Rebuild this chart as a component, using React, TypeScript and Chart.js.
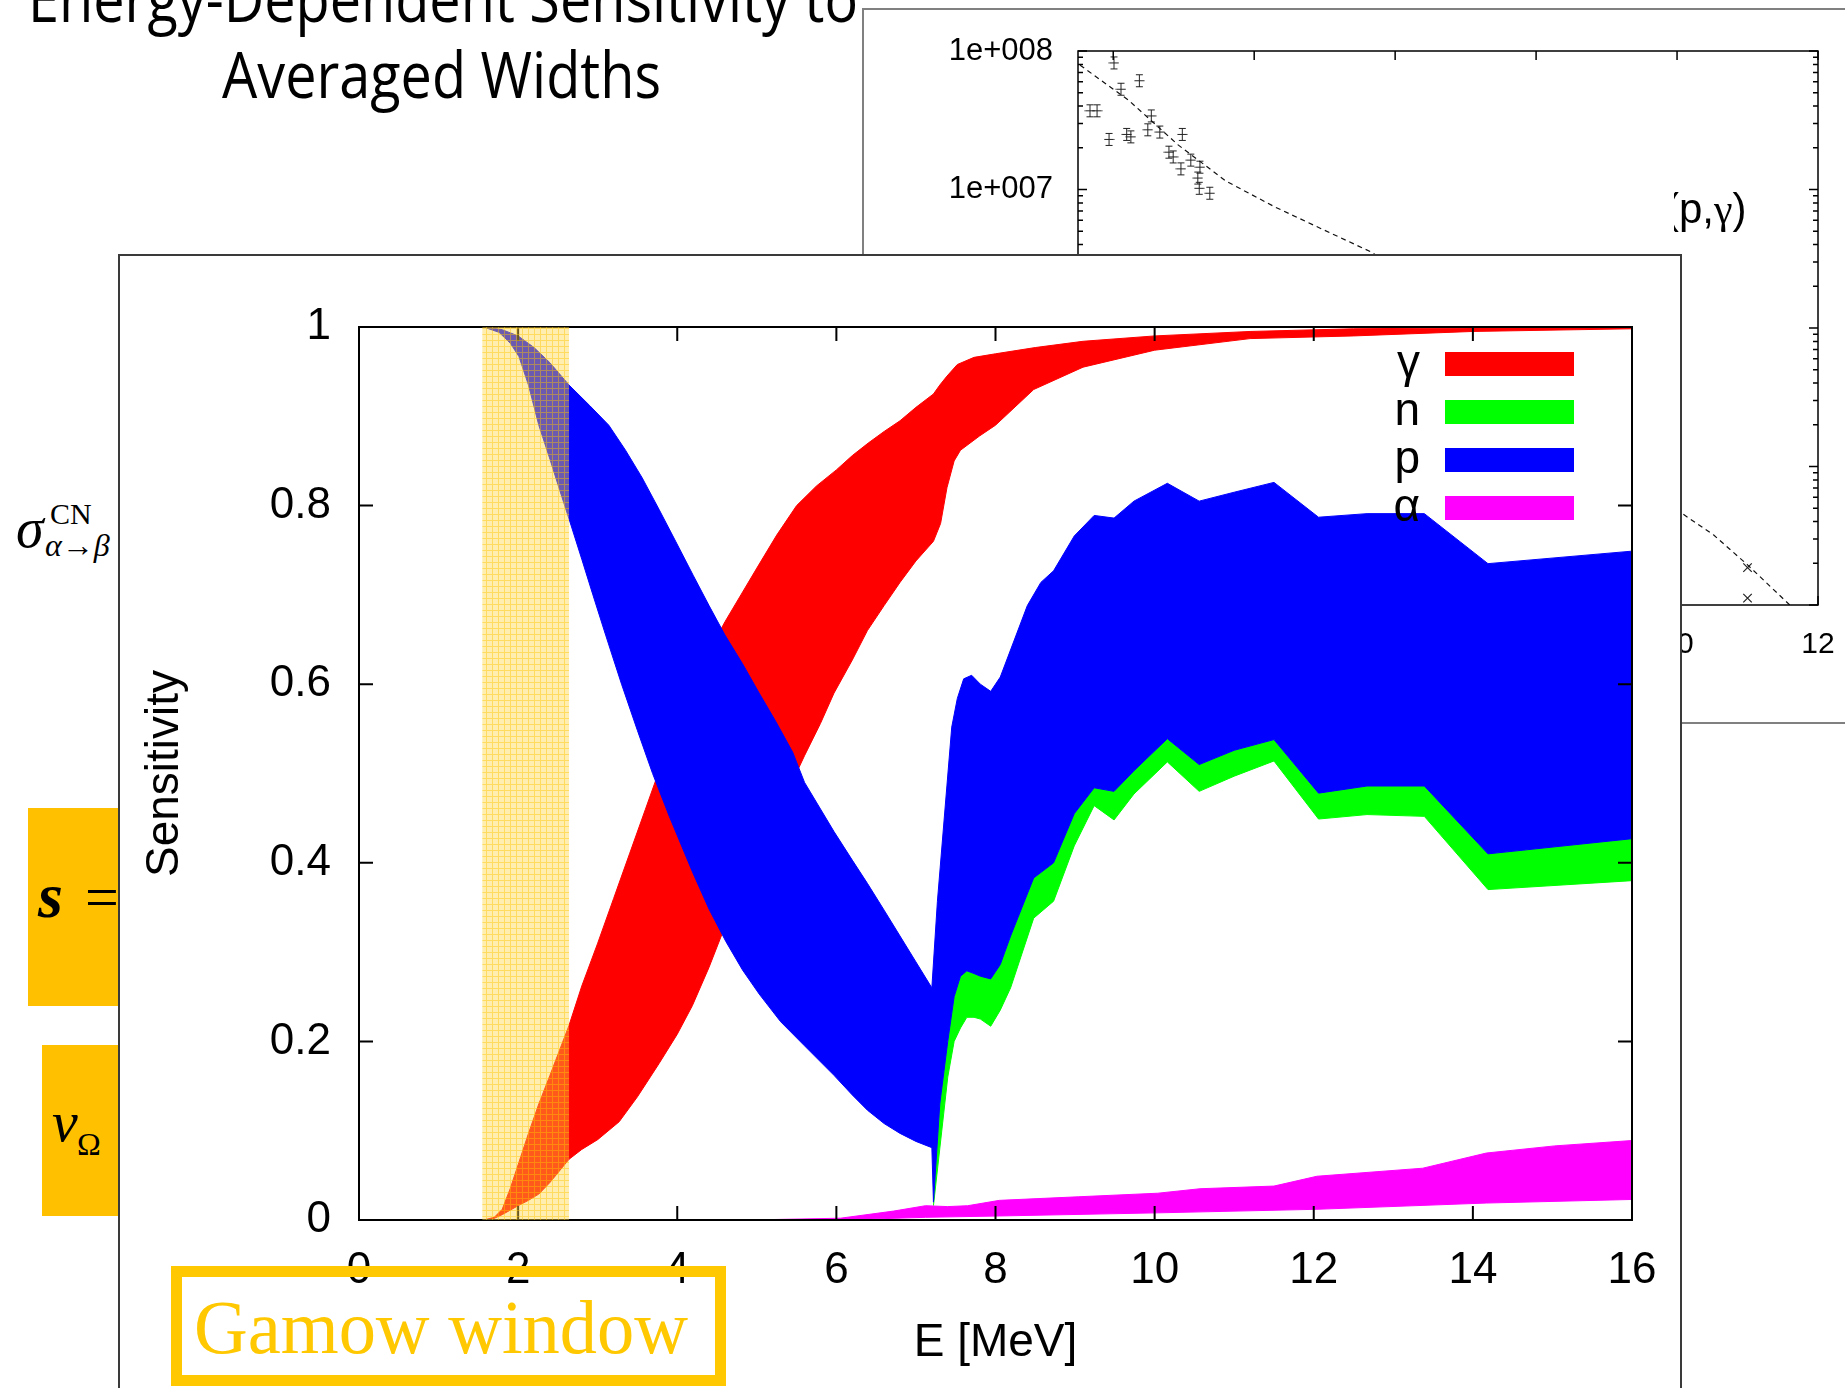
import React, { useEffect, useRef } from 'react';
import { Chart, registerables } from 'chart.js';

Chart.register(...registerables);

const SANS = "'Liberation Sans', Arial, Helvetica, sans-serif";
const SERIF = "'Liberation Serif', 'Times New Roman', serif";
const TITLE_FONT = "'Open Sans', sans-serif";

// ---------- Sensitivity plot ----------
// gamma channel envelope
const gammaUpperE = [1.57, 1.7, 1.8, 1.9, 2.0, 2.13, 2.26, 2.4, 2.52, 2.64, 2.8, 3.0, 3.2, 3.4, 3.6, 3.8, 4.0, 4.2, 4.4, 4.6, 4.8, 5.0, 5.25, 5.5, 5.75, 6.0, 6.2, 6.4, 6.6, 6.8, 7.0, 7.22, 7.3, 7.39, 7.52, 7.73, 8.0, 8.5, 9.1, 10.0, 11.2, 12.5, 14.0, 16.0];
const gammaUpper = [0, 0.003, 0.012, 0.035, 0.062, 0.097, 0.13, 0.162, 0.19, 0.218, 0.262, 0.31, 0.36, 0.41, 0.46, 0.51, 0.555, 0.6, 0.637, 0.67, 0.7, 0.73, 0.767, 0.8, 0.822, 0.84, 0.856, 0.87, 0.883, 0.895, 0.91, 0.925, 0.935, 0.945, 0.958, 0.966, 0.97, 0.977, 0.984, 0.99, 0.995, 0.998, 0.999, 1.0];
const gammaLowerE = [1.57, 1.68, 1.8, 2.0, 2.13, 2.26, 2.4, 2.52, 2.64, 2.8, 3.0, 3.27, 3.5, 3.77, 4.0, 4.19, 4.4, 4.61, 4.82, 5.03, 5.3, 5.6, 5.8, 5.97, 6.2, 6.39, 6.6, 6.8, 7.0, 7.22, 7.31, 7.39, 7.48, 7.56, 7.8, 8.0, 8.48, 9.1, 10.0, 11.2, 12.5, 14.0, 16.0];
const gammaLower = [0, 0.001, 0.006, 0.016, 0.022, 0.029, 0.042, 0.055, 0.068, 0.079, 0.09, 0.11, 0.138, 0.175, 0.208, 0.24, 0.283, 0.331, 0.37, 0.41, 0.463, 0.52, 0.556, 0.59, 0.627, 0.66, 0.688, 0.714, 0.738, 0.76, 0.78, 0.82, 0.85, 0.862, 0.878, 0.89, 0.93, 0.955, 0.974, 0.987, 0.99, 0.995, 0.998];

// neutron channel envelope
const nUpperE = [7.22, 7.3, 7.4, 7.48, 7.56, 7.64, 7.73, 7.81, 7.94, 8.06, 8.19, 8.48, 8.73, 8.99, 9.24, 9.49, 9.74, 10.16, 10.56, 11.0, 11.5, 12.06, 12.67, 13.39, 14.19, 16.0];
const nUpper = [0.02, 0.13, 0.2, 0.25, 0.273, 0.279, 0.276, 0.273, 0.27, 0.286, 0.318, 0.383, 0.4, 0.455, 0.484, 0.48, 0.503, 0.539, 0.51, 0.526, 0.538, 0.478, 0.486, 0.486, 0.41, 0.427];
const nLowerE = [7.22, 7.3, 7.4, 7.48, 7.56, 7.64, 7.73, 7.81, 7.94, 8.06, 8.19, 8.48, 8.73, 8.99, 9.24, 9.49, 9.74, 10.16, 10.56, 11.0, 11.5, 12.06, 12.67, 13.39, 14.19, 16.0];
const nLower = [0.016, 0.08, 0.16, 0.2, 0.215, 0.227, 0.227, 0.225, 0.217, 0.235, 0.26, 0.338, 0.357, 0.419, 0.464, 0.448, 0.477, 0.513, 0.48, 0.497, 0.514, 0.449, 0.454, 0.452, 0.37, 0.38];

// proton channel envelope
const pUpperE = [1.6, 1.8, 2.0, 2.2, 2.4, 2.64, 2.9, 3.14, 3.35, 3.56, 3.77, 3.98, 4.2, 4.4, 4.6, 4.82, 5.03, 5.24, 5.45, 5.6, 5.97, 6.2, 6.39, 6.6, 6.8, 7.0, 7.2, 7.27, 7.39, 7.45, 7.52, 7.6, 7.7, 7.81, 7.94, 8.06, 8.4, 8.57, 8.73, 8.99, 9.24, 9.49, 9.74, 10.16, 10.56, 11.0, 11.5, 12.06, 12.67, 13.39, 14.19, 16.0];
const pUpper = [1.0, 0.997, 0.99, 0.977, 0.96, 0.935, 0.912, 0.89, 0.862, 0.831, 0.796, 0.76, 0.722, 0.688, 0.655, 0.623, 0.59, 0.558, 0.524, 0.49, 0.435, 0.403, 0.377, 0.347, 0.318, 0.289, 0.26, 0.357, 0.487, 0.552, 0.584, 0.606, 0.61, 0.6, 0.592, 0.608, 0.688, 0.714, 0.727, 0.766, 0.789, 0.786, 0.805, 0.825, 0.805, 0.815, 0.826, 0.787, 0.791, 0.791, 0.735, 0.749];
const pLowerE = [1.6, 1.76, 1.9, 2.01, 2.13, 2.26, 2.4, 2.52, 2.64, 2.8, 2.94, 3.1, 3.3, 3.5, 3.69, 3.9, 4.19, 4.4, 4.61, 4.82, 5.03, 5.3, 5.6, 5.97, 6.2, 6.39, 6.6, 6.8, 7.0, 7.2, 7.22, 7.3, 7.4, 7.48, 7.56, 7.64, 7.73, 7.81, 7.94, 8.06, 8.19, 8.48, 8.73, 8.99, 9.24, 9.49, 9.74, 10.16, 10.56, 11.0, 11.5, 12.06, 12.67, 13.39, 14.19, 16.0];
const pLower = [0.999, 0.994, 0.982, 0.967, 0.935, 0.89, 0.852, 0.818, 0.785, 0.74, 0.7, 0.655, 0.6, 0.548, 0.5, 0.452, 0.39, 0.348, 0.312, 0.28, 0.253, 0.222, 0.195, 0.162, 0.14, 0.123, 0.108, 0.097, 0.088, 0.081, 0.02, 0.13, 0.2, 0.25, 0.273, 0.279, 0.276, 0.273, 0.27, 0.286, 0.318, 0.383, 0.4, 0.455, 0.484, 0.48, 0.503, 0.539, 0.51, 0.526, 0.538, 0.478, 0.486, 0.486, 0.41, 0.427];

// alpha channel envelope
const aUpperE = [4.9, 6.05, 6.72, 7.12, 7.4, 7.65, 8.05, 9.04, 10.04, 10.57, 11.5, 12.04, 13.37, 14.17, 15.03, 16.0];
const aUpper = [0, 0.002, 0.01, 0.016, 0.015, 0.016, 0.022, 0.026, 0.03, 0.035, 0.038, 0.049, 0.058, 0.075, 0.083, 0.089];
const aLowerE = [4.9, 6.05, 7.12, 8.05, 10.04, 12.04, 14.17, 16.0];
const aLower = [0, 0, 0.003, 0.0045, 0.008, 0.012, 0.019, 0.023];

const legendLabels = ['γ', 'n', 'p', 'α'];
const bandColors = ['#ff0000', '#00ff00', '#0000ff', '#ff00ff'];
const gamowWindow = [1.55, 2.64];

// ---------- Cross-section plot ----------
const bgXTicks = [2, 4, 6, 8, 10, 12];
const bgDecades = [1e4, 1e5, 1e6, 1e7, 1e8];
const measE = [2.01, 2.11, 2.37, 1.67, 1.77, 1.94, 2.19, 2.25, 2.49, 2.54, 2.66, 2.98, 2.79, 2.85, 2.96, 3.1, 3.23, 3.2, 3.22, 3.37];
const measS = [8.2e7, 5.3e7, 6.1e7, 3.7e7, 3.7e7, 2.3e7, 2.5e7, 2.4e7, 2.7e7, 3.4e7, 2.6e7, 2.5e7, 1.86e7, 1.72e7, 1.41e7, 1.63e7, 1.45e7, 1.21e7, 1.02e7, 9.4e6];
const highE = [11.0, 11.0];
const highS = [1.86e4, 1.12e4];
const modelE = [1.53, 2.22, 2.92, 3.6, 4.29, 4.99, 5.68, 7.0, 8.5, 10.04, 10.52, 11.0, 11.6];
const modelS = [7.9e7, 4.4e7, 2.1e7, 1.15e7, 7.5e6, 5.1e6, 3.5e6, 9.5e5, 2.1e5, 4.7e4, 3.2e4, 1.95e4, 1.0e4];

function bandPolygon(upE: number[], up: number[], loE: number[], lo: number[]) {
  const top = upE.map((x, i) => ({ x, y: up[i] }));
  const bottom = loE.map((x, i) => ({ x, y: lo[i] })).reverse();
  return [...top, ...bottom];
}

function band(label: string, color: string, data: any[], order: number) {
  return {
    type: 'line',
    label,
    order,
    data,
    fill: 'shape',
    backgroundColor: color,
    borderColor: color,
    borderWidth: 1,
    pointRadius: 0,
    tension: 0,
  };
}

function SensitivityChart() {
  const ref = useRef<HTMLCanvasElement>(null);
  useEffect(() => {
    const canvas = ref.current as HTMLCanvasElement;
    const ctx = canvas.getContext('2d') as CanvasRenderingContext2D;

    const tile = document.createElement('canvas');
    tile.width = 6;
    tile.height = 6;
    const tc = tile.getContext('2d') as CanvasRenderingContext2D;
    tc.fillStyle = 'rgba(255, 214, 64, 0.42)';
    tc.fillRect(0, 0, 6, 6);
    tc.fillStyle = 'rgba(255, 196, 0, 0.45)';
    tc.fillRect(0, 0, 6, 1);
    tc.fillRect(0, 1, 1, 5);
    const hatch = ctx.createPattern(tile, 'repeat');

    const framePlugin = {
      id: 'sensFrame',
      afterDatasetsDraw(chart: any) {
        const c = chart.ctx as CanvasRenderingContext2D;
        const a = chart.chartArea;
        const xs = chart.scales.x;
        const ys = chart.scales.y;
        c.save();
        c.strokeStyle = '#000';
        c.lineWidth = 2;
        c.beginPath();
        xs.ticks.forEach((t: any) => {
          const px = xs.getPixelForValue(t.value);
          c.moveTo(px, a.bottom);
          c.lineTo(px, a.bottom - 14);
          c.moveTo(px, a.top);
          c.lineTo(px, a.top + 14);
        });
        ys.ticks.forEach((t: any) => {
          const py = ys.getPixelForValue(t.value);
          c.moveTo(a.left, py);
          c.lineTo(a.left + 14, py);
          c.moveTo(a.right, py);
          c.lineTo(a.right - 14, py);
        });
        c.stroke();
        c.strokeRect(a.left, a.top, a.right - a.left, a.bottom - a.top);

        // Gamow window shading
        const g0 = xs.getPixelForValue(gamowWindow[0]);
        const g1 = xs.getPixelForValue(gamowWindow[1]);
        c.fillStyle = hatch || 'rgba(255, 204, 0, 0.5)';
        c.fillRect(g0, a.top, g1 - g0, a.bottom - a.top);

        // key
        c.font = `46px ${SANS}`;
        c.textAlign = 'right';
        c.textBaseline = 'middle';
        legendLabels.forEach((lab, i) => {
          const cy = a.top + 37 + i * 48;
          c.fillStyle = '#000';
          c.fillText(lab, a.right - 212, cy);
          c.fillStyle = bandColors[i];
          c.fillRect(a.right - 187, cy - 12, 129, 24);
        });
        c.restore();
      },
    };

    const chart = new Chart(canvas, {
      type: 'line',
      data: {
        datasets: [
          band(legendLabels[0], bandColors[0], bandPolygon(gammaUpperE, gammaUpper, gammaLowerE, gammaLower), 4),
          band(legendLabels[1], bandColors[1], bandPolygon(nUpperE, nUpper, nLowerE, nLower), 3),
          band(legendLabels[2], bandColors[2], bandPolygon(pUpperE, pUpper, pLowerE, pLower), 2),
          band(legendLabels[3], bandColors[3], bandPolygon(aUpperE, aUpper, aLowerE, aLower), 1),
        ] as any,
      },
      options: {
        responsive: false,
        animation: false,
        devicePixelRatio: 1,
        events: [],
        layout: { padding: { top: 71, right: 48, left: 0, bottom: 0 } },
        plugins: { legend: { display: false }, tooltip: { enabled: false } },
        scales: {
          x: {
            type: 'linear',
            min: 0,
            max: 16,
            afterFit: (s: any) => { s.height = 168; },
            grid: { display: false },
            border: { display: false },
            ticks: { stepSize: 2, font: { family: SANS, size: 44 }, color: '#000', padding: 16, maxRotation: 0 },
            title: { display: true, text: 'E [MeV]', font: { family: SANS, size: 46 }, color: '#000', padding: { top: 0, bottom: 17 } },
          },
          y: {
            type: 'linear',
            min: 0,
            max: 1,
            afterFit: (s: any) => { s.width = 239; },
            grid: { display: false },
            border: { display: false },
            ticks: {
              stepSize: 0.2,
              font: { family: SANS, size: 44 },
              color: '#000',
              padding: 20,
              callback: (v: any) => String(Number(Number(v).toFixed(2))),
            },
            title: { display: true, text: 'Sensitivity', font: { family: SANS, size: 46 }, color: '#000', padding: { top: 18, bottom: 0 } },
          },
        },
      } as any,
      plugins: [framePlugin],
    });
    return () => chart.destroy();
  }, []);
  return <canvas ref={ref} width={1560} height={1132} style={{ display: 'block', width: 1560, height: 1132 }} />;
}

function CrossSectionChart() {
  const ref = useRef<HTMLCanvasElement>(null);
  useEffect(() => {
    const canvas = ref.current as HTMLCanvasElement;

    // "error bar" marker glyph
    const glyph = document.createElement('canvas');
    glyph.width = 11;
    glyph.height = 15;
    const g = glyph.getContext('2d') as CanvasRenderingContext2D;
    g.strokeStyle = '#222';
    g.lineWidth = 1;
    g.beginPath();
    g.moveTo(5.5, 1);
    g.lineTo(5.5, 14);
    g.moveTo(2, 1.5);
    g.lineTo(9, 1.5);
    g.moveTo(2, 13.5);
    g.lineTo(9, 13.5);
    g.moveTo(0.5, 7.5);
    g.lineTo(10.5, 7.5);
    g.stroke();

    const bgFrame = {
      id: 'bgFrame',
      afterDatasetsDraw(chart: any) {
        const c = chart.ctx as CanvasRenderingContext2D;
        const a = chart.chartArea;
        const xs = chart.scales.x;
        const ys = chart.scales.y;
        c.save();
        c.strokeStyle = '#000';
        c.lineWidth = 1.5;
        c.beginPath();
        bgXTicks.forEach((v) => {
          const px = xs.getPixelForValue(v);
          c.moveTo(px, a.top);
          c.lineTo(px, a.top + 9);
          c.moveTo(px, a.bottom);
          c.lineTo(px, a.bottom - 9);
        });
        for (let d = 0; d < bgDecades.length; d++) {
          const kMax = d === bgDecades.length - 1 ? 1 : 9;
          for (let k = 1; k <= kMax; k++) {
            const py = ys.getPixelForValue(k * bgDecades[d]);
            const len = k === 1 ? 9 : 5;
            c.moveTo(a.left, py);
            c.lineTo(a.left + len, py);
            c.moveTo(a.right, py);
            c.lineTo(a.right - len, py);
          }
        }
        c.stroke();
        c.strokeRect(a.left, a.top, a.right - a.left, a.bottom - a.top);
        c.restore();
      },
    };

    const chart = new Chart(canvas, {
      type: 'line',
      data: {
        datasets: [
          {
            data: modelE.map((x, i) => ({ x, y: modelS[i] })),
            borderColor: '#111',
            borderWidth: 1.2,
            borderDash: [5, 4],
            pointRadius: 0,
            fill: false,
          },
          {
            data: measE.map((x, i) => ({ x, y: measS[i] })),
            showLine: false,
            pointStyle: glyph,
            pointRadius: 6,
          },
          {
            data: highE.map((x, i) => ({ x, y: highS[i] })),
            showLine: false,
            pointStyle: 'crossRot',
            pointRadius: 6,
            borderColor: '#222',
            borderWidth: 1.2,
          },
        ] as any,
      },
      options: {
        responsive: false,
        animation: false,
        devicePixelRatio: 1,
        events: [],
        layout: { padding: { top: 41, right: 46, left: 0, bottom: 0 } },
        plugins: { legend: { display: false }, tooltip: { enabled: false } },
        scales: {
          x: {
            type: 'linear',
            min: 1.5,
            max: 12,
            afterFit: (s: any) => { s.height = 117; },
            afterBuildTicks: (s: any) => { s.ticks = bgXTicks.map((v) => ({ value: v })); },
            grid: { display: false },
            border: { display: false },
            ticks: { font: { family: SANS, size: 30 }, color: '#000', padding: 14, autoSkip: false, maxRotation: 0 },
          },
          y: {
            type: 'logarithmic',
            min: 1e4,
            max: 1e8,
            afterFit: (s: any) => { s.width = 214; },
            afterBuildTicks: (s: any) => { s.ticks = bgDecades.map((v) => ({ value: v })); },
            grid: { display: false },
            border: { display: false },
            ticks: {
              font: { family: SANS, size: 31 },
              color: '#000',
              padding: 17,
              autoSkip: false,
              callback: (v: any) => '1e+' + String(Math.round(Math.log10(Number(v)))).padStart(3, '0'),
            },
          },
        },
      } as any,
      plugins: [bgFrame],
    });
    return () => chart.destroy();
  }, []);
  return <canvas ref={ref} width={1000} height={712} style={{ display: 'block', width: 1000, height: 712 }} />;
}

export default function App() {
  return (
    <div style={{ position: 'fixed', left: 0, top: 0, width: 1845, height: 1388, overflow: 'hidden', background: '#fff' }}>
      <svg width={1845} height={1388} style={{ position: 'absolute', left: 0, top: 0 }}>
        <text x={28} y={22} fontFamily={TITLE_FONT} fontSize={64} textLength={830} lengthAdjust="spacingAndGlyphs" fill="#000">
          Energy-Dependent Sensitivity to
        </text>
        <text x={222} y={98} fontFamily={TITLE_FONT} fontSize={64} textLength={439} lengthAdjust="spacingAndGlyphs" fill="#000">
          Averaged Widths
        </text>
        <text x={16} y={547} fontFamily={SERIF} fontStyle="italic" fontSize={56} fill="#000">σ</text>
        <text x={50} y={524} fontFamily={SERIF} fontSize={30} fill="#000">CN</text>
        <text x={45} y={556} fontFamily={SERIF} fontStyle="italic" fontSize={32} fill="#000">α→β</text>
        <rect x={28} y={808} width={100} height={198} fill="#FFC000" />
        <text x={38} y={917} fontFamily={SERIF} fontStyle="italic" fontWeight="bold" fontSize={64} fill="#000">s</text>
        <text x={85} y={917} fontFamily={SERIF} fontSize={60} fill="#000">=</text>
        <rect x={42} y={1045} width={90} height={171} fill="#FFC000" />
        <text x={52} y={1141} fontFamily={SERIF} fontStyle="italic" fontSize={58} fill="#000">v</text>
        <text x={77} y={1155} fontFamily={SERIF} fontSize={32} fill="#000">Ω</text>
      </svg>

      <div style={{ position: 'absolute', left: 862, top: 8, width: 1100, height: 716, border: '2px solid #808080', boxSizing: 'border-box', background: '#fff' }}>
        <CrossSectionChart />
      </div>

      <svg width={1845} height={1388} style={{ position: 'absolute', left: 0, top: 0 }}>
        <defs>
          <clipPath id="reactionClip">
            <rect x={1674} y={150} width={171} height={110} />
          </clipPath>
        </defs>
        <text x={1665} y={223} clipPath="url(#reactionClip)" fontFamily={SANS} fontSize={42} fill="#000">
          (p,<tspan fontFamily={SERIF}>γ</tspan>)
        </text>
      </svg>

      <div style={{ position: 'absolute', left: 118, top: 254, width: 1564, height: 1200, border: '2px solid #3a3a3a', boxSizing: 'border-box', background: '#fff' }}>
        <SensitivityChart />
      </div>

      <svg width={1845} height={1388} style={{ position: 'absolute', left: 0, top: 0 }}>
        <rect x={176.5} y={1271.5} width={544} height={109} fill="none" stroke="#FFC800" strokeWidth={11} />
        <text x={194} y={1353} fontFamily={SERIF} fontSize={76} textLength={494} lengthAdjust="spacingAndGlyphs" fill="#FFC800">
          Gamow window
        </text>
      </svg>
    </div>
  );
}
